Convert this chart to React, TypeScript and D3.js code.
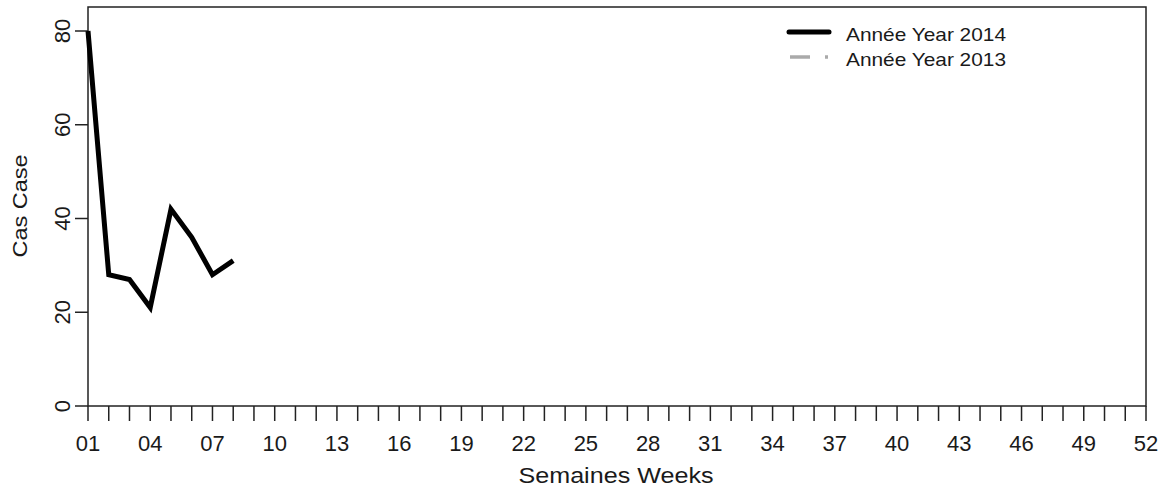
import React from "react";
import * as d3 from "d3";

const weeks: number[] = d3.range(1, 53);
const cases2014: number[] = [80, 28, 27, 21, 42, 36, 28, 31];
const weeks2014: number[] = [1, 2, 3, 4, 5, 6, 7, 8];
const yTicks: number[] = [0, 20, 40, 60, 80];
const xLabelWeeks: number[] = d3.range(1, 53, 3);
const legendLabels: string[] = ["Année Year 2014", "Année Year 2013"];

export default function App() {
  const W = 1169, H = 491;
  const left = 88, right = 1146, top = 7, bottom = 406;
  const x = d3.scaleLinear().domain([1, 52]).range([left, right]);
  const y = d3.scaleLinear().domain([0, 80]).range([bottom, 31]);
  const line = d3.line<number>().x((_, i) => x(weeks2014[i])).y((d) => y(d));
  const font = "Liberation Sans, Arial, sans-serif";
  const tc = "#1a1a1a";
  return (
    <svg width={W} height={H} style={{ position: "absolute", left: 0, top: 0, background: "#fff" }}>
      <rect x={left} y={top} width={right - left} height={bottom - top} fill="none" stroke="#222" strokeWidth={1.5} />
      {weeks.map((w) => (
        <line key={w} x1={x(w)} x2={x(w)} y1={bottom} y2={bottom + 15} stroke="#222" strokeWidth={1.5} />
      ))}
      {xLabelWeeks.map((w) => (
        <text key={w} x={x(w)} y={451} textAnchor="middle" fontFamily={font} fontSize={22} fill={tc}>
          {String(w).padStart(2, "0")}
        </text>
      ))}
      {yTicks.map((v) => (
        <g key={v}>
          <line x1={left - 13} x2={left} y1={y(v)} y2={y(v)} stroke="#222" strokeWidth={1.5} />
          <text transform={`translate(70,${y(v)}) rotate(-90)`} textAnchor="middle" fontFamily={font} fontSize={22} fill={tc}>
            {v}
          </text>
        </g>
      ))}
      <text x={616} y={483} textAnchor="middle" fontFamily={font} fontSize={22} fill={tc} textLength={195} lengthAdjust="spacingAndGlyphs">
        Semaines Weeks
      </text>
      <text transform={`translate(27,206) rotate(-90)`} textAnchor="middle" fontFamily={font} fontSize={21} fill={tc} textLength={103} lengthAdjust="spacingAndGlyphs">
        Cas Case
      </text>
      <path d={line(cases2014) || ""} fill="none" stroke="#000" strokeWidth={5} strokeLinejoin="miter" />
      <line x1={789} x2={829} y1={32} y2={32} stroke="#000" strokeWidth={5} strokeLinecap="round" />
      <line x1={790} x2={830} y1={57} y2={57} stroke="#aaa" strokeWidth={3.5} strokeDasharray="20 15 3 10" />
      {legendLabels.map((t, i) => (
        <text key={t} x={846} y={41 + i * 25} fontFamily={font} fontSize={18.5} fill={tc} textLength={160} lengthAdjust="spacingAndGlyphs">
          {t}
        </text>
      ))}
    </svg>
  );
}
